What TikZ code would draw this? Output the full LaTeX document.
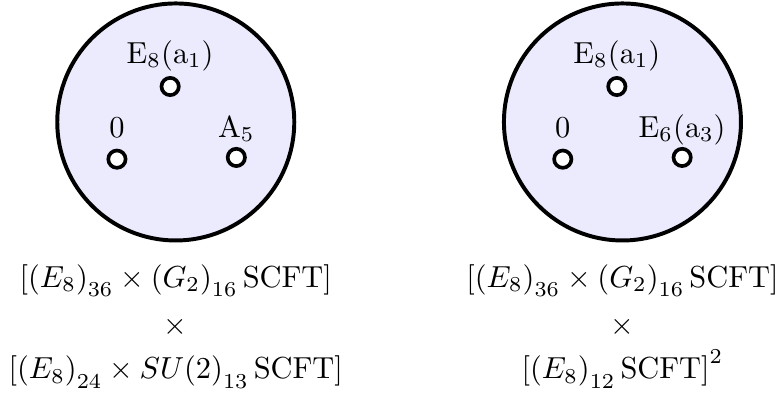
\documentclass[tikz,border=0pt]{standalone}
\usepackage{amsmath}
\usetikzlibrary{positioning,calc}
\definecolor{disclav}{HTML}{EBEBFD}

\begin{document}
\begin{tikzpicture}[
  disc/.style={circle,draw=black,line width=1.3pt,fill=disclav,minimum size=2.74cm,inner sep=0pt},
  pct/.style={circle,draw=black,line width=1.2pt,fill=white,minimum size=0.2cm,inner sep=0pt},
  lbl/.style={anchor=base,inner sep=0pt},
  thy/.style={anchor=base,inner sep=0pt}]
\useasboundingbox (-2.032,-3.168) rectangle (7.020,1.410);
% left disc
\node[disc] (dl) at (0,0) {};
\node[pct] (dlt) at ($(dl)+(-0.065,0.41)$) {};
\node[pct] (dla) at ($(dl)+(-0.68,-0.43)$) {};
\node[pct] (dlb) at ($(dl)+(0.70,-0.41)$) {};
\node[lbl] (dltl) at ($(dlt)+(0,0.27)$) {$\mathrm{E}_8(\mathrm{a}_1)$};
\node[lbl] (dlal) at ($(dla)+(0,0.245)$) {$0$};
\node[lbl] (dlbl) at ($(dlb)+(0,0.235)$) {$\mathrm{A}_5$};
% right disc
\node[disc] (dr) at (5.164,0) {};
\node[pct] (drt) at ($(dr)+(-0.065,0.41)$) {};
\node[pct] (dra) at ($(dr)+(-0.69,-0.43)$) {};
\node[pct] (drb) at ($(dr)+(0.69,-0.41)$) {};
\node[lbl] (drtl) at ($(drt)+(0,0.27)$) {$\mathrm{E}_8(\mathrm{a}_1)$};
\node[lbl] (dral) at ($(dra)+(0,0.245)$) {$0$};
\node[lbl] (drbl) at ($(drb)+(0,0.235)$) {$\mathrm{E}_6(\mathrm{a}_3)$};
% theories
\node[thy] (tl1) at (0,-1.908) {$\left[{\left(E_8\right)}_{36}\times{\left(G_2\right)}_{16}\,\mathrm{SCFT}\right]$};
\node[thy] (tlx) at (0,-2.462) {$\times$};
\node[thy] (tl2) at (0,-2.971) {$\left[{\left(E_8\right)}_{24}\times SU{\left(2\right)}_{13}\,\mathrm{SCFT}\right]$};
\node[thy] (tr1) at (5.164,-1.908) {$\left[{\left(E_8\right)}_{36}\times{\left(G_2\right)}_{16}\,\mathrm{SCFT}\right]$};
\node[thy] (trx) at (5.164,-2.462) {$\times$};
\node[thy] (tr2) at (5.164,-2.971) {${\left[{\left(E_8\right)}_{12}\,\mathrm{SCFT}\right]}^2$};
\end{tikzpicture}
\end{document}
